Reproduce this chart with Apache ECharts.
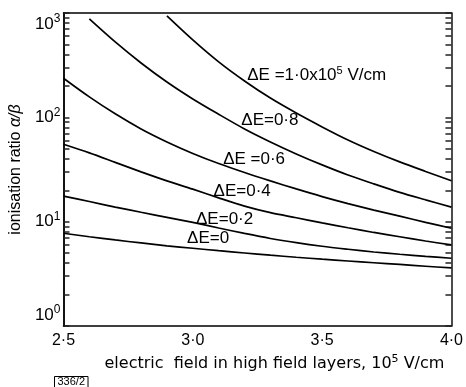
<!DOCTYPE html>
<html>
<head>
<meta charset="utf-8">
<script src="https://cdn.jsdelivr.net/npm/echarts@6/dist/echarts.min.js"></script>
<style>
html,body{margin:0;padding:0;background:#fff;}
#chart{width:466px;height:387px;}
</style>
</head>
<body>
<div id="chart"></div>
<script>
// electric field in high field layers (10^5 V/cm)
const fieldE = [2.5, 2.6, 2.7, 2.8, 2.9, 3.0, 3.1, 3.2, 3.3, 3.4, 3.5, 3.6, 3.7, 3.8, 3.9, 4.0];
// ionisation ratio alpha/beta for each ΔE
const ratioDE10 = [null, null, null, null, 938, 552, 340, 223, 153, 110, 81, 60.7, 47.1, 37.4, 30.3, 24.7];
const ratioDE08 = [null, 878, 528, 332, 218, 150, 107, 77.4, 58.1, 44.6, 35.0, 28.0, 23.0, 19.1, 16.2, 13.8];
const ratioDE06 = [237, 157, 108, 77.4, 58.1, 45.1, 36.1, 29.6, 24.6, 20.6, 17.4, 14.9, 12.9, 11.3, 9.85, 8.64];
const ratioDE04 = [55.2, 45.6, 37.0, 30.0, 24.6, 20.5, 16.9, 14.1, 12.2, 10.9, 9.72, 8.74, 7.88, 7.17, 6.53, 5.98];
const ratioDE02 = [17.6, 15.6, 13.8, 12.3, 11.0, 9.83, 8.70, 7.71, 6.90, 6.29, 5.81, 5.44, 5.12, 4.87, 4.65, 4.46];
const ratioDE00 = [7.74, 7.17, 6.68, 6.25, 5.87, 5.56, 5.27, 5.01, 4.77, 4.56, 4.37, 4.20, 4.04, 3.89, 3.74, 3.60];

const seriesNames = ['ΔE=1.0', 'ΔE=0.8', 'ΔE=0.6', 'ΔE=0.4', 'ΔE=0.2', 'ΔE=0'];
const curveLabels = [
  '{t|ΔE =1·0x10}{s|5}{t| V/cm}',
  '{t|ΔE=0·8}',
  '{t|ΔE =0·6}',
  '{t|ΔE=0·4}',
  '{t|ΔE=0·2}',
  '{t|ΔE=0}'
];
// label anchor points in data units [field, ratio]
const labelAnchors = [[3.479, 252], [3.298, 93.4], [3.237, 39.5], [3.191, 19.5], [3.123, 10.5], [3.059, 6.9]];

const xTickValues = [2.5, 3.0, 3.5, 4.0];
const xTickLabels = ['2·5', '3·0', '3·5', '4·0'];
const yTickValues = [1, 10, 100, 1000];
const yTickExponents = ['0', '1', '2', '3'];
const yMinorTicks = [];
[1, 10, 100].forEach(function (d) { for (let k = 1; k <= 9; k++) yMinorTicks.push(d * k); });
yMinorTicks.push(1000);
const yMinorTickLogs = yMinorTicks.map(function (v) { return Math.log10(v); });

const allSeries = [ratioDE10, ratioDE08, ratioDE06, ratioDE04, ratioDE02, ratioDE00];
const FONT = 'Liberation Sans';

const chart = echarts.init(document.getElementById('chart'), null, {renderer: 'canvas'});

const series = allSeries.map(function (arr, si) {
  const data = [];
  arr.forEach(function (v, i) { if (v !== null) data.push([fieldE[i], v]); });
  return {
    name: seriesNames[si],
    type: 'line',
    yAxisIndex: 2,
    data: data,
    smooth: 0.3,
    showSymbol: false,
    symbol: 'none',
    lineStyle: {color: '#000', width: 1.7},
    silent: true,
    markPoint: {
      symbol: 'circle',
      symbolSize: 0,
      silent: true,
      data: [{coord: labelAnchors[si]}],
      label: {
        show: true,
        position: 'inside',
        formatter: curveLabels[si],
        rich: {
          t: {fontFamily: FONT, fontSize: 17, color: '#000', lineHeight: 20},
          s: {fontFamily: FONT, fontSize: 11, color: '#000', verticalAlign: 'top', lineHeight: 20}
        }
      }
    }
  };
});

function tickAxis(pos) {
  return {
    type: 'value',
    min: 0,
    max: 3,
    position: pos,
    axisLine: {show: true, lineStyle: {color: '#111', width: 1.5}},
    axisTick: {show: true, inside: true, length: 6, customValues: yMinorTickLogs, lineStyle: {color: '#222', width: 1.5}},
    axisLabel: {show: false},
    splitLine: {show: false}
  };
}

chart.setOption({
  animation: false,
  backgroundColor: '#fff',
  grid: {left: 54, right: 3, top: 13, bottom: 61},
  xAxis: [{
    type: 'value',
    min: 2.5,
    max: 4.0,
    interval: 0.5,
    position: 'bottom',
    name: 'electric  field in high field layers, 10{s|5} V/cm',
    nameLocation: 'middle',
    nameGap: 22,
    nameTextStyle: {
      fontFamily: 'DejaVu Sans', fontSize: 16, color: '#000', padding: [0, 0, 0, 34],
      rich: {s: {fontFamily: 'DejaVu Sans', fontSize: 11, color: '#000', verticalAlign: 'top', lineHeight: 20}}
    },
    axisLine: {show: true, onZero: false, lineStyle: {color: '#000', width: 1.5}},
    axisTick: {show: false},
    splitLine: {show: false},
    axisLabel: {
      customValues: xTickValues,
      formatter: function (v) { const i = xTickValues.indexOf(+v.toFixed(1)); return i >= 0 ? xTickLabels[i] : ''; },
      fontFamily: FONT, fontSize: 16, color: '#000', margin: 7
    }
  }, {
    type: 'value',
    min: 2.5,
    max: 4.0,
    position: 'top',
    axisLine: {show: true, onZero: false, lineStyle: {color: '#000', width: 1.5}},
    axisTick: {show: false},
    axisLabel: {show: false},
    splitLine: {show: false}
  }],
  yAxis: [
    tickAxis('left'),
    tickAxis('right'),
    {
      type: 'log',
      min: 1,
      max: 1000,
      position: 'left',
      name: '{n|ionisation ratio }{i|α/β}',
      nameLocation: 'middle',
      nameGap: 32,
      nameTextStyle: {
        rich: {
          n: {fontFamily: FONT, fontSize: 16, color: '#000'},
          i: {fontFamily: FONT, fontSize: 16, color: '#000', fontStyle: 'italic'}
        }
      },
      axisLine: {show: true, lineStyle: {color: '#000', width: 1.5}},
      axisTick: {show: false},
      splitLine: {show: false},
      minorSplitLine: {show: false},
      axisLabel: {
        customValues: yTickValues,
        margin: 3,
        verticalAlignMinLabel: 'bottom',
        verticalAlignMaxLabel: 'top',
        formatter: function (v) {
          const i = yTickValues.indexOf(Math.round(v));
          return '{b|10}{s|' + (i >= 0 ? yTickExponents[i] : '') + '}';
        },
        rich: {
          b: {fontFamily: FONT, fontSize: 17, color: '#000', lineHeight: 22},
          s: {fontFamily: FONT, fontSize: 12, color: '#000', verticalAlign: 'top', lineHeight: 22}
        }
      }
    }
  ],
  graphic: [{
    type: 'text',
    left: 54,
    top: 376,
    style: {
      text: '336/2',
      fontFamily: FONT,
      fontSize: 11,
      fill: '#000',
      borderColor: '#000',
      borderWidth: 1,
      padding: [0, 3, 0, 3]
    }
  }],
  series: series
});
</script>
</body>
</html>
